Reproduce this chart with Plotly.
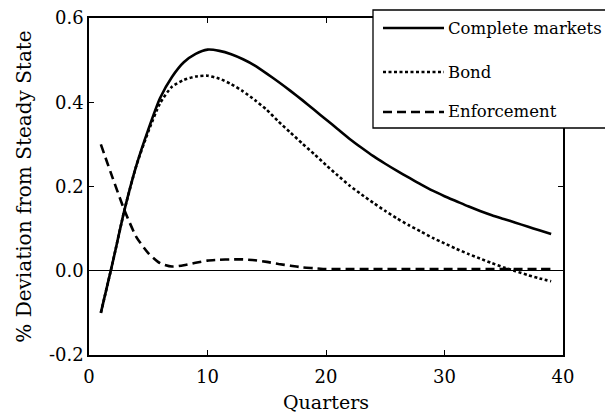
import plotly.graph_objects as go

quarters = list(range(1, 40))

series_names = ["Complete markets", "Bond", "Enforcement"]

complete_markets = [-0.100, 0.020, 0.145, 0.250, 0.335, 0.410, 0.460, 0.495, 0.515, 0.525,
                    0.522, 0.514, 0.502, 0.487, 0.468, 0.448, 0.427, 0.405, 0.382, 0.359,
                    0.336, 0.313, 0.292, 0.272, 0.254, 0.237, 0.221, 0.205, 0.190, 0.177,
                    0.165, 0.153, 0.142, 0.132, 0.123, 0.114, 0.105, 0.096, 0.087]

bond = [-0.100, 0.020, 0.145, 0.250, 0.330, 0.398, 0.437, 0.453, 0.461, 0.463,
        0.456, 0.443, 0.426, 0.405, 0.382, 0.354, 0.328, 0.302, 0.277, 0.251,
        0.226, 0.202, 0.181, 0.161, 0.142, 0.124, 0.108, 0.093, 0.078, 0.065,
        0.052, 0.040, 0.029, 0.018, 0.008, -0.001, -0.010, -0.018, -0.025]

enforcement = [0.300, 0.220, 0.143, 0.080, 0.042, 0.018, 0.010, 0.013, 0.019, 0.024,
               0.026, 0.027, 0.027, 0.025, 0.021, 0.016, 0.012, 0.008, 0.006, 0.004,
               0.004, 0.004, 0.004, 0.004, 0.004, 0.004, 0.004, 0.004, 0.004, 0.004,
               0.004, 0.004, 0.004, 0.004, 0.004, 0.004, 0.004, 0.004, 0.004]

x_ticks = [0, 10, 20, 30, 40]
y_ticks = [-0.2, 0.0, 0.2, 0.4, 0.6]

FONT = "DejaVu Serif"
styles = [dict(dash="solid", width=2.6),
          dict(dash="3px,2.5px", width=2.6),
          dict(dash="9px,5px", width=2.6)]

fig = go.Figure()
for name, ys, st in zip(series_names, [complete_markets, bond, enforcement], styles):
    fig.add_trace(go.Scatter(x=quarters, y=ys, mode="lines", name=name,
                             line=dict(color="black", width=st["width"], dash=st["dash"],
                                       shape="spline", smoothing=0.6),
                             showlegend=False))

# manual legend (box, line samples, labels) in paper coordinates
L, R, T, B = 89, 563, 18, 355


def px_x(px):
    return (px - L) / (R - L)


def px_y(py):
    return (B - py) / (B - T)


shapes = [dict(type="rect", xref="paper", yref="paper",
               x0=px_x(373), x1=px_x(612), y0=px_y(128), y1=px_y(10),
               line=dict(color="black", width=1.3), fillcolor="white", layer="above")]
annotations = []
item_y = [28, 72, 112]
for name, st, py in zip(series_names, styles, item_y):
    shapes.append(dict(type="line", xref="paper", yref="paper",
                       x0=px_x(383), x1=px_x(444), y0=px_y(py), y1=px_y(py),
                       line=dict(color="black", width=st["width"], dash=st["dash"]),
                       layer="above"))
    annotations.append(dict(xref="paper", yref="paper", x=px_x(446), y=px_y(py),
                            text=name, showarrow=False, xanchor="left", yanchor="middle",
                            font=dict(family=FONT, size=16.5, color="black")))

fig.update_layout(
    width=605, height=415,
    margin=dict(l=L, r=605 - R, t=T, b=415 - B),
    paper_bgcolor="white", plot_bgcolor="white",
    font=dict(family=FONT, size=17, color="black"),
    shapes=shapes, annotations=annotations,
)
fig.update_xaxes(range=[0, 40], tickvals=x_ticks, ticktext=[str(v) for v in x_ticks],
                 ticks="inside", ticklen=5, tickwidth=1.2, tickcolor="black",
                 showline=True, linecolor="black", linewidth=1.6, mirror="ticks",
                 showgrid=False, zeroline=False, automargin=False,
                 ticklabelstandoff=5,
                 title=dict(text="Quarters", font=dict(family=FONT, size=19), standoff=9),
                 tickfont=dict(family=FONT, size=18))
fig.update_yaxes(range=[-0.2, 0.6], tickvals=y_ticks, ticktext=[f"{v:.1f}" for v in y_ticks],
                 ticks="inside", ticklen=5, tickwidth=1.2, tickcolor="black",
                 showline=True, linecolor="black", linewidth=1.6, mirror="ticks",
                 showgrid=False, zeroline=True, zerolinecolor="black", zerolinewidth=1,
                 automargin=False,
                 title=dict(text="% Deviation from Steady State", font=dict(family=FONT, size=20), standoff=12),
                 tickfont=dict(family=FONT, size=18))

fig.write_html("out.html",
               config={"displayModeBar": False},
               post_script="document.body.style.margin='0';document.body.style.overflow='hidden';")
